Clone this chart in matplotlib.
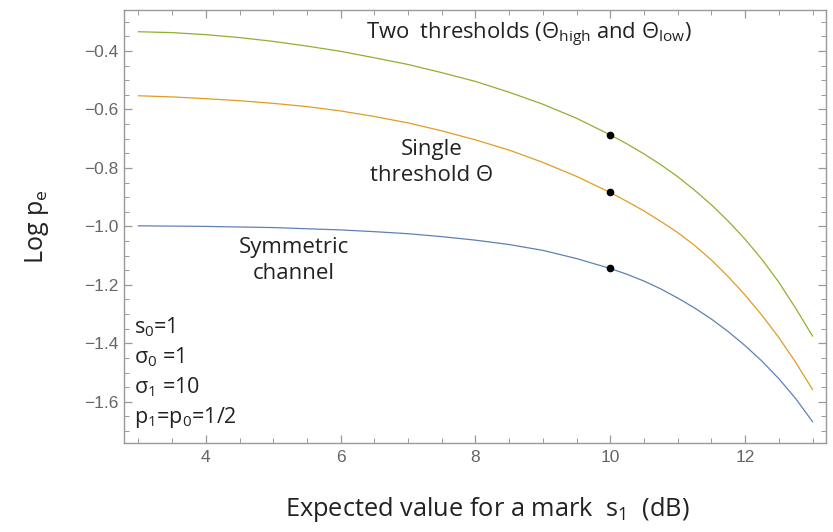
import matplotlib
matplotlib.use("Agg")
import matplotlib.pyplot as plt
from matplotlib.ticker import MultipleLocator

# Values (log10 of error probability)
s1_db = [3, 3.5, 4, 4.5, 5, 5.5, 6, 6.5, 7, 7.5, 8, 8.5, 9, 9.5, 10,
         10.25, 10.5, 10.75, 11, 11.25, 11.5, 11.75, 12, 12.25, 12.5, 12.75, 13]
two_thresholds = [-0.334, -0.337, -0.344, -0.354, -0.367, -0.383, -0.401, -0.423,
                  -0.446, -0.474, -0.504, -0.541, -0.582, -0.630, -0.687,
                  -0.718, -0.752, -0.789, -0.830, -0.876, -0.926, -0.982, -1.044,
                  -1.113, -1.191, -1.280, -1.375]
single_threshold = [-0.553, -0.557, -0.563, -0.570, -0.579, -0.590, -0.605, -0.624,
                    -0.646, -0.673, -0.704, -0.739, -0.781, -0.829, -0.884,
                    -0.915, -0.947, -0.983, -1.021, -1.065, -1.115, -1.172, -1.235,
                    -1.304, -1.380, -1.465, -1.558]
symmetric = [-0.998, -0.999, -1.000, -1.002, -1.004, -1.008, -1.012, -1.018,
             -1.025, -1.035, -1.047, -1.062, -1.082, -1.110, -1.144,
             -1.164, -1.187, -1.214, -1.245, -1.279, -1.317, -1.360, -1.408,
             -1.461, -1.521, -1.589, -1.668]

marker_x = 10
marker_y = [-0.687, -0.884, -1.144]

plt.rcParams["mathtext.fontset"] = "custom"
plt.rcParams["mathtext.rm"] = "Open Sans"
plt.rcParams["mathtext.it"] = "Open Sans"
plt.rcParams["mathtext.sf"] = "Open Sans"

text_font = ["Open Sans", "DejaVu Sans"]
tick_font = "Liberation Sans"

fig = plt.figure(figsize=(8.33, 5.32), dpi=100)
ax = fig.add_axes([0.1489, 0.1673, 0.8427, 0.8148])

ax.plot(s1_db, symmetric, color="#5E81B5", lw=0.9)
ax.plot(s1_db, single_threshold, color="#E19C24", lw=0.9)
ax.plot(s1_db, two_thresholds, color="#8FB032", lw=0.9)
ax.plot([marker_x] * 3, marker_y, "o", color="black", ms=4.5, zorder=5)

ax.set_xlim(2.787, 13.2)
ax.set_ylim(-1.741, -0.258)

ax.xaxis.set_major_locator(MultipleLocator(2))
ax.xaxis.set_minor_locator(MultipleLocator(0.5))
ax.yaxis.set_major_locator(MultipleLocator(0.2))
ax.yaxis.set_minor_locator(MultipleLocator(0.05))

frame = "#999999"
for sp in ax.spines.values():
    sp.set_color(frame)
    sp.set_linewidth(1.0)
ax.tick_params(which="both", direction="in", top=True, right=True, color=frame)
ax.tick_params(which="major", length=6, width=0.9, labelsize=12.5,
               labelcolor="#666666", pad=5)
ax.tick_params(which="minor", length=3.5, width=0.7)
ax.tick_params(axis="y", which="major", pad=4)
for lab in ax.get_xticklabels() + ax.get_yticklabels():
    lab.set_family(tick_font)
ax.set_yticklabels([f"\u2212{abs(v):.1f}" for v in ax.get_yticks()])

# annotations
ax.text(6.38, -0.345, r"Two  thresholds ($\Theta_{\mathrm{high}}$ and $\Theta_{\mathrm{low}}$)",
        fontsize=15.8, family=text_font, ha="left", va="center", color="#222222")
ax.text(7.35, -0.78, "Single\nthreshold \u0398", fontsize=16, family=text_font,
        ha="center", va="center", linespacing=1.3, color="#222222")
ax.text(5.3, -1.116, "Symmetric\nchannel", fontsize=16, family=text_font,
        ha="center", va="center", linespacing=1.3, color="#222222")
ax.text(2.93, -1.5, "$\\mathrm{s_0}$=1\n$\\mathrm{\u03c3_0}$ =1\n$\\mathrm{\u03c3_1}$ =10\n"
        "$\\mathrm{p_1}$=$\\mathrm{p_0}$=1/2", fontsize=15.5, family=text_font,
        ha="left", va="center", linespacing=1.35, color="#222222")

ax.set_xlabel(r"Expected value for a mark  $\mathrm{s_1}$  (dB)", fontsize=18.3,
              family=text_font, color="#222222")
ax.xaxis.set_label_coords(0.517, -0.12)
ax.set_ylabel(r"Log $\mathrm{p_e}$", fontsize=18, family=text_font, labelpad=24,
              color="#222222")

fig.savefig("out.png", dpi=100)
